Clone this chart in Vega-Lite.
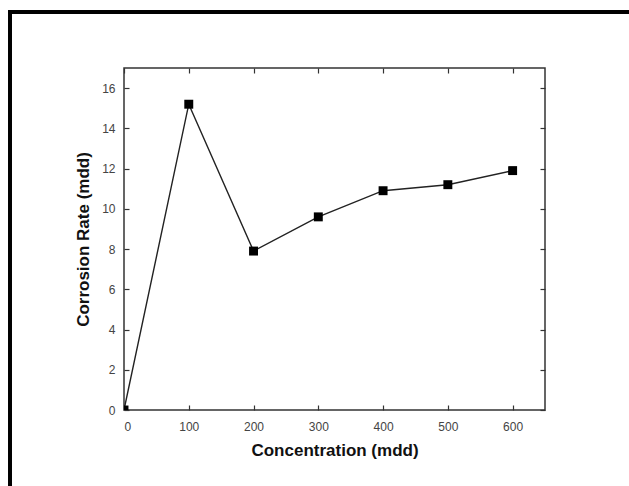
{
  "$schema": "https://vega.github.io/schema/vega-lite/v6.json",
  "width": 421,
  "height": 342,
  "autosize": {"type": "none"},
  "padding": {"left": 124, "top": 68, "right": 84, "bottom": 76},
  "background": "white",
  "config": {
    "font": "Liberation Sans",
    "view": {"stroke": "#333333", "strokeWidth": 1.5},
    "axis": {
      "domain": false,
      "grid": false,
      "ticks": true,
      "tickColor": "#333333",
      "tickWidth": 1.2,
      "tickSize": -5,
      "labelFont": "Liberation Sans",
      "labelFontSize": 12,
      "labelColor": "#444444",
      "titleFont": "Liberation Sans",
      "titleFontSize": 17,
      "titleFontWeight": "bold",
      "titleColor": "#111111"
    }
  },
  "data": {
    "values": [
      {"conc": 0, "rate": 0},
      {"conc": 100, "rate": 15.2},
      {"conc": 200, "rate": 7.9},
      {"conc": 300, "rate": 9.6},
      {"conc": 400, "rate": 10.9},
      {"conc": 500, "rate": 11.2},
      {"conc": 600, "rate": 11.9}
    ]
  },
  "layer": [
    {
      "mark": {"type": "line", "color": "#222222", "strokeWidth": 1.4, "clip": true},
      "encoding": {
        "x": {
          "field": "conc", "type": "quantitative",
          "scale": {"domain": [0, 650], "nice": false, "zero": false},
          "axis": {"title": "Concentration (mdd)", "values": [0, 100, 200, 300, 400, 500, 600], "labelPadding": 16, "titlePadding": 10, "orient": "bottom"}
        },
        "y": {
          "field": "rate", "type": "quantitative",
          "scale": {"domain": [0, 17], "nice": false, "zero": false},
          "axis": {"title": "Corrosion Rate (mdd)", "values": [0, 2, 4, 6, 8, 10, 12, 14, 16], "labelPadding": 14, "titlePadding": 9, "orient": "left"}
        }
      }
    },
    {
      "mark": {"type": "square", "color": "black", "filled": true, "opacity": 1, "size": 80, "clip": true},
      "encoding": {
        "x": {"field": "conc", "type": "quantitative", "axis": {"orient": "top", "labels": false, "title": null, "values": [0, 100, 200, 300, 400, 500, 600]}},
        "y": {"field": "rate", "type": "quantitative", "axis": {"orient": "right", "labels": false, "title": null, "values": [0, 2, 4, 6, 8, 10, 12, 14, 16]}}
      }
    },
    {
      "mark": {"type": "rule", "color": "black", "strokeWidth": 3, "strokeCap": "square"},
      "encoding": {
        "x": {"datum": -176, "type": "quantitative", "axis": null},
        "x2": {"datum": 800},
        "y": {"datum": 19.78, "type": "quantitative", "axis": null}
      }
    },
    {
      "mark": {"type": "rule", "color": "black", "strokeWidth": 3, "strokeCap": "square"},
      "encoding": {
        "x": {"datum": -176, "type": "quantitative", "axis": null},
        "y": {"datum": 19.78, "type": "quantitative", "axis": null},
        "y2": {"datum": -5}
      }
    }
  ],
  "resolve": {"axis": {"x": "independent", "y": "independent"}}
}
